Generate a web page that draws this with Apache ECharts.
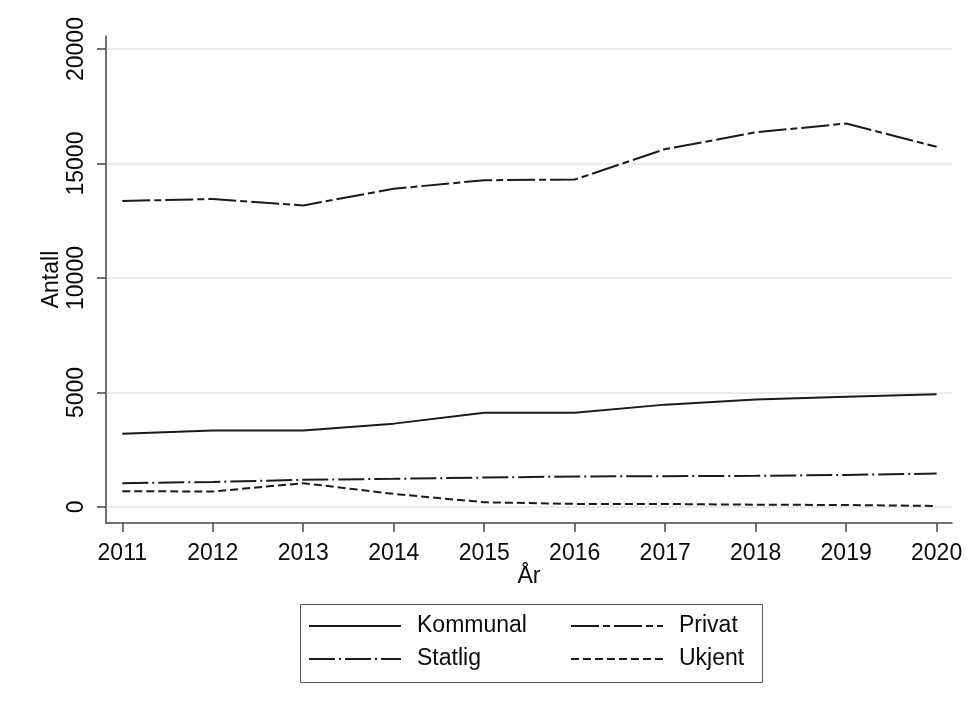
<!DOCTYPE html>
<html>
<head>
<meta charset="utf-8">
<script src="https://cdn.jsdelivr.net/npm/echarts@6/dist/echarts.min.js"></script>
<style>
    html, body { margin: 0; padding: 0; background: #ffffff; }
    #antall_chart { width: 970px; height: 707px; }
</style>
</head>
<body>
<div id="antall_chart"></div>
<script>

// Data
// ------------------------------

var years = [2011, 2012, 2013, 2014, 2015, 2016, 2017, 2018, 2019, 2020];
var yTicks = [0, 5000, 10000, 15000, 20000];

var kommunal = [3200, 3345, 3335, 3640, 4120, 4110, 4470, 4690, 4810, 4925];
var privat   = [13365, 13450, 13170, 13900, 14270, 14300, 15630, 16360, 16750, 15730];
var statlig  = [1040, 1095, 1185, 1230, 1285, 1330, 1345, 1360, 1400, 1460];
var ukjent   = [690, 675, 1040, 570, 205, 135, 130, 100, 85, 45];


// Setup chart
// ------------------------------

var AntallChart = function() {

    var _build = function() {
        var element = document.getElementById('antall_chart');
        if (!element) return;

        var chart = echarts.init(element, null, { renderer: 'canvas' });

        var lineColor = '#1a1a1a';
        var textColor = '#0a0a0a';
        var fontFamily = '"Liberation Sans", Arial, sans-serif';

        var pairs = function(values) {
            return years.map(function(y, i) { return [y, values[i]]; });
        };

        var makeSeries = function(name, values, dash) {
            return {
                name: name,
                type: 'line',
                data: pairs(values),
                symbol: 'none',
                silent: true,
                lineStyle: { color: lineColor, width: 2, type: dash },
                itemStyle: { color: lineColor }
            };
        };

        // Two legend columns, so the entries line up like the original key
        // (legend text sits 5px after the icon, padding adds the rest)
        var legendBase = {
            orient: 'vertical',
            padding: 0,
            itemWidth: 92,
            itemHeight: 14,
            itemGap: 9,
            selectedMode: false,
            itemStyle: { opacity: 0 },
            textStyle: {
                fontFamily: fontFamily,
                fontSize: 23,
                lineHeight: 24,
                color: textColor,
                padding: [0, 0, 0, 11]
            }
        };

        chart.setOption({
            backgroundColor: '#ffffff',
            animation: false,
            textStyle: { fontFamily: fontFamily },

            grid: {
                left: 106,
                right: 18,
                top: 36,
                bottom: 184,
                outerBoundsMode: 'none'
            },

            xAxis: {
                type: 'value',
                min: 2010.82,
                max: 2020.17,
                name: 'År',
                nameLocation: 'middle',
                nameGap: 42,
                nameMoveOverlap: false,
                nameTextStyle: { fontSize: 23, color: textColor },
                axisLine: { onZero: false, lineStyle: { color: '#444', width: 1.5 } },
                axisTick: { length: 9, customValues: years, lineStyle: { color: '#444', width: 1.5 } },
                axisLabel: {
                    customValues: years,
                    margin: 19,
                    fontSize: 23,
                    color: textColor,
                    formatter: function(v) { return String(v); }
                },
                splitLine: { show: false }
            },

            yAxis: {
                type: 'value',
                min: -700,
                max: 20570,
                name: 'Antall',
                nameLocation: 'middle',
                nameGap: 43,
                nameMoveOverlap: false,
                nameTextStyle: { fontSize: 23, color: textColor },
                axisLine: { show: true, onZero: false, lineStyle: { color: '#444', width: 1.5 } },
                axisTick: { show: true, length: 9, customValues: yTicks, lineStyle: { color: '#444', width: 1.5 } },
                axisLabel: {
                    customValues: yTicks,
                    rotate: 90,
                    margin: 18,
                    fontSize: 23,
                    color: textColor,
                    formatter: function(v) { return String(v); }
                },
                splitLine: { show: true, lineStyle: { color: '#e6e6e6', width: 1.5 } }
            },

            legend: [
                Object.assign({}, legendBase, { left: 308, top: 614, data: ['Kommunal', 'Statlig'] }),
                Object.assign({}, legendBase, { left: 570, top: 614, data: ['Privat', 'Ukjent'] })
            ],

            // Legend frame
            graphic: [{
                type: 'rect',
                left: 298,
                top: 602,
                shape: { width: 462, height: 78 },
                style: { fill: 'none', stroke: '#555', lineWidth: 1 },
                silent: true
            }],

            series: [
                makeSeries('Kommunal', kommunal, 'solid'),
                makeSeries('Privat', privat, [28, 4, 7, 4]),
                makeSeries('Statlig', statlig, [26, 4, 2, 4]),
                makeSeries('Ukjent', ukjent, [8, 4])
            ]
        });
    };

    return {
        init: function() {
            _build();
        }
    };
}();

document.addEventListener('DOMContentLoaded', function() {
    AntallChart.init();
});
</script>
</body>
</html>
